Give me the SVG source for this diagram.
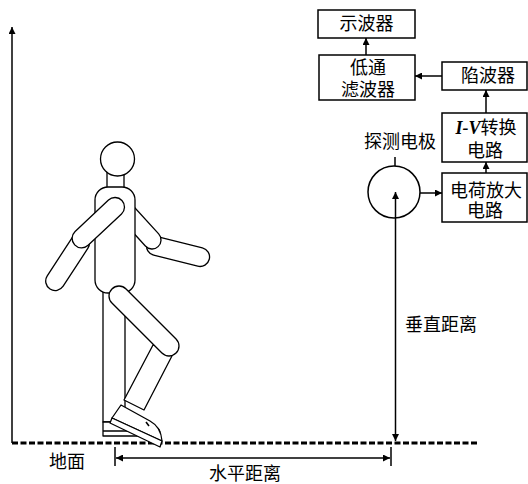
<svg xmlns="http://www.w3.org/2000/svg" width="528" height="484" viewBox="0 0 528 484">
  <style>
    .ln { stroke: #000; stroke-width: 1.5; fill: none; }
    .box { stroke: #000; stroke-width: 1.5; fill: #fff; }
    .body { stroke: #000; stroke-width: 1.3; fill: #fff; stroke-linejoin: round; }
    .t { font-family: "Liberation Serif", "Noto Sans CJK SC", serif; font-size: 18px; fill: #000; text-anchor: middle; }
    .iv { font-family: "Liberation Serif", serif; font-style: italic; font-weight: bold; }
  </style>
  <defs>
    <marker id="ah" viewBox="0 0 10 10" refX="10" refY="5" markerWidth="9" markerHeight="7" markerUnits="userSpaceOnUse" orient="auto-start-reverse">
      <path d="M0,0 L10,5 L0,10 Z" fill="#000"/>
    </marker>
  </defs>

  <!-- ground and axis -->
  <g id="ground">
    <line x1="12" y1="443" x2="478" y2="443" stroke="#000" stroke-width="3" stroke-dasharray="6 2.5"/>
    <line class="ln" x1="12" y1="443" x2="12" y2="27" marker-end="url(#ah)"/>
    <text class="t" x="67" y="468">地面</text>
  </g>

  <!-- walking figure -->
  <g id="person">
    <!-- rear arm -->
    <rect class="body" x="-9.5" y="-9.5" width="64.4" height="19" rx="9.5" transform="translate(156,246) rotate(14)"/>
    <rect class="body" x="-9" y="-9" width="62.6" height="18" rx="9" transform="translate(122,207) rotate(47.7)"/>
    <!-- rear leg -->
    <rect class="body" x="103" y="280" width="22" height="142"/>
    <path class="body" d="M103,422 L140,422 Q158,424 160,432 L160,436 L103,436 Z"/>
    <line class="ln" x1="103" y1="431" x2="160" y2="431" stroke-width="1.2"/>
    <!-- torso, neck, head -->
    <rect class="body" x="107" y="172" width="17" height="18"/>
    <rect class="body" x="95" y="187" width="40" height="106" rx="13"/>
    <circle class="body" cx="117.5" cy="159" r="17"/>
    <!-- front leg -->
    <polygon class="body" points="153,345 174,352 144,410 124,400"/>
    <rect class="body" x="-10" y="-10" width="90.7" height="20" rx="10" transform="translate(119,296) rotate(45)"/>
    <path class="body" d="M112,418 L121,405 L150,421 Q161,427 162,441 Z"/>
    <polygon class="body" points="112,418 162,441 160,447 110,423"/>
    <line class="ln" x1="146" y1="422" x2="149" y2="426" stroke-width="1.2"/>
    <!-- front arm -->
    <rect class="body" x="-9.5" y="-9.5" width="64.4" height="19" rx="9.5" transform="translate(80,243) rotate(123.1)"/>
    <rect class="body" x="-9.5" y="-9.5" width="64.8" height="19" rx="9.5" transform="translate(115,207) rotate(136.8)"/>
  </g>

  <!-- probe electrode -->
  <g id="probe">
    <circle class="ln" cx="394" cy="192" r="26"/>
    <line class="ln" x1="395" y1="157" x2="395" y2="166"/>
    <text class="t" x="400" y="148">探测电极</text>
  </g>

  <!-- signal chain -->
  <g id="oscilloscope">
    <rect class="box" x="318" y="10" width="97" height="28"/>
    <text class="t" x="366.5" y="30">示波器</text>
  </g>
  <g id="lowpass">
    <rect class="box" x="319" y="55" width="96" height="45"/>
    <text class="t" x="368" y="74">低通</text>
    <text class="t" x="368" y="96">滤波器</text>
  </g>
  <g id="notch">
    <rect class="box" x="442" y="62" width="85" height="28"/>
    <text class="t" x="488" y="82">陷波器</text>
  </g>
  <g id="iv-converter">
    <rect class="box" x="442" y="113" width="85" height="49"/>
    <text class="t" x="486" y="134"><tspan class="iv">I-V</tspan>转换</text>
    <text class="t" x="485" y="157">电路</text>
  </g>
  <g id="charge-amp">
    <rect class="box" x="442" y="173" width="85" height="49"/>
    <text class="t" x="486" y="197">电荷放大</text>
    <text class="t" x="485" y="217">电路</text>
  </g>

  <!-- connectors -->
  <g id="connectors">
    <line class="ln" x1="420" y1="193" x2="442" y2="193" marker-end="url(#ah)"/>
    <line class="ln" x1="486" y1="173" x2="486" y2="162" marker-end="url(#ah)"/>
    <line class="ln" x1="486" y1="113" x2="486" y2="90" marker-end="url(#ah)"/>
    <line class="ln" x1="442" y1="76" x2="415" y2="76" marker-end="url(#ah)"/>
    <line class="ln" x1="366" y1="55" x2="366" y2="38" marker-end="url(#ah)"/>
    <!-- vertical distance -->
    <line class="ln" x1="395.5" y1="192" x2="395.5" y2="441" marker-start="url(#ah)" marker-end="url(#ah)"/>
    <text class="t" x="441" y="331">垂直距离</text>
    <!-- horizontal distance -->
    <line class="ln" x1="115" y1="447" x2="115" y2="466"/>
    <line class="ln" x1="391" y1="447" x2="391" y2="466"/>
    <line class="ln" x1="116" y1="458" x2="390" y2="458" marker-start="url(#ah)" marker-end="url(#ah)"/>
    <text class="t" x="245" y="480">水平距离</text>
  </g>
</svg>
